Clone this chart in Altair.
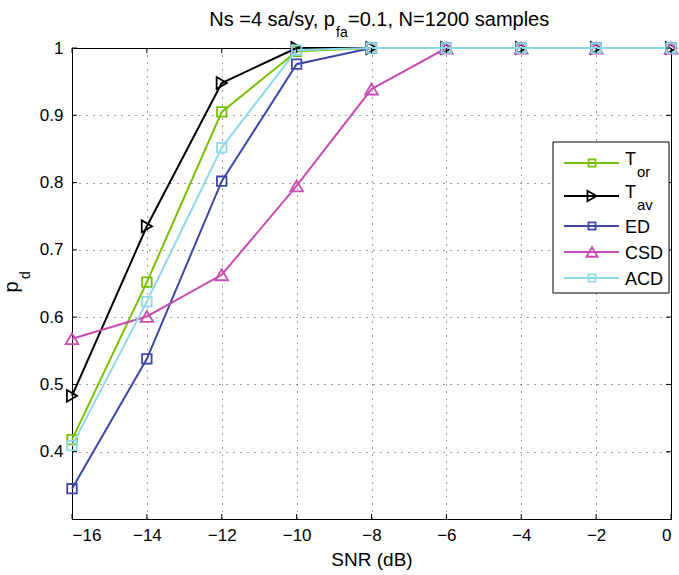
import altair as alt
import pandas as pd

# ---------------- data ----------------
snr = [-16, -14, -12, -10, -8, -6, -4, -2, 0]
series_names = ["T_or", "T_av", "ED", "CSD", "ACD"]
t_or = [0.418, 0.652, 0.905, 0.995, 1.0, 1.0, 1.0, 1.0, 1.0]
t_av = [0.483, 0.735, 0.948, 1.0, 1.0, 1.0, 1.0, 1.0, 1.0]
ed = [0.345, 0.538, 0.802, 0.976, 1.0, 1.0, 1.0, 1.0, 1.0]
csd = [0.568, 0.601, 0.663, 0.795, 0.939, 1.0, 1.0, 1.0, 1.0]
acd = [0.409, 0.623, 0.852, 0.997, 1.0, 1.0, 1.0, 1.0, 1.0]
series_values = [t_or, t_av, ed, csd, acd]

x_ticks = [-16, -14, -12, -10, -8, -6, -4, -2, 0]
y_ticks = [0.4, 0.5, 0.6, 0.7, 0.8, 0.9, 1.0]

# legend labels: (main text, subscript)
legend_main = ["T", "T", "ED", "CSD", "ACD"]
legend_sub = ["or", "av", "", "", ""]

# ---------------- styles ----------------
FONT = "Liberation Sans"
colors = ["#76C000", "#000000", "#3D47A6", "#C74DB3", "#8ED8E8"]
shapes = ["square", "triangle-right", "square", "triangle-up", "square"]
sizes = [90, 140, 90, 160, 90]
leg_sizes = [50, 110, 50, 120, 50]

W, H = 599, 471
xs = alt.Scale(domain=[-16, 0], nice=False, zero=False)
ys = alt.Scale(domain=[0.3, 1.0], nice=False, zero=False)

xaxis = alt.Axis(values=x_ticks, format="d", grid=True, gridDash=[1, 6],
                 gridColor="#000", gridOpacity=0.75, gridWidth=1,
                 tickSize=0, labelPadding=8, labelFontSize=17, labelFont=FONT,
                 labelColor="#000", domainColor="#000", domainWidth=1,
                 title="SNR (dB)", titleFont=FONT, titleFontSize=19,
                 titleFontWeight="normal", titleColor="#000", titlePadding=7)
yaxis = alt.Axis(values=y_ticks, format="~g", grid=True, gridDash=[1, 6],
                 gridColor="#000", gridOpacity=0.75, gridWidth=1,
                 tickSize=0, labelPadding=9, labelFontSize=17, labelFont=FONT,
                 labelColor="#000", domainColor="#000", domainWidth=1,
                 title=None)

layers = []

# series lines + markers
for name, vals, c, shp, sz in zip(series_names, series_values, colors, shapes, sizes):
    df = pd.DataFrame({"snr": snr, "pd": vals})
    base = alt.Chart(df).encode(
        x=alt.X("snr:Q", scale=xs, axis=xaxis),
        y=alt.Y("pd:Q", scale=ys, axis=yaxis),
    )
    layers.append(base.mark_line(color=c, strokeWidth=2))
    layers.append(base.mark_point(shape=shp, size=sz, filled=False, color=c,
                                  strokeWidth=1.8, opacity=1))

# inward ticks on all four sides
xt = pd.DataFrame({"snr": x_ticks})
yt = pd.DataFrame({"pd": y_ticks})
for y0, y1 in [(H, H - 5), (0, 5)]:
    layers.append(alt.Chart(xt).mark_rule(color="#000", strokeWidth=1).encode(
        x=alt.X("snr:Q", scale=xs, axis=xaxis), y=alt.value(y0), y2=alt.value(y1)))
for x0, x1 in [(0, 5), (W, W - 5)]:
    layers.append(alt.Chart(yt).mark_rule(color="#000", strokeWidth=1).encode(
        y=alt.Y("pd:Q", scale=ys, axis=yaxis), x=alt.value(x0), x2=alt.value(x1)))

one = pd.DataFrame({"a": [0]})

def text_layer(txt, x, y, size, align="left", angle=0):
    return alt.Chart(one).mark_text(text=txt, align=align, baseline="alphabetic",
                                    font=FONT, fontSize=size, color="#000",
                                    angle=angle).encode(x=alt.value(x), y=alt.value(y))

# title with subscript
layers.append(text_layer("Ns =4 sa/sy, p", 263, -22, 20, align="right"))
layers.append(text_layer("fa", 264, -11, 14))
layers.append(text_layer("=0.1, N=1200 samples", 276, -22, 20))

# y-axis title p_d (rotated)
layers.append(text_layer("p", -54, 239, 20, align="center", angle=270))
layers.append(text_layer("d", -42, 227, 14, align="center", angle=270))

# legend box
layers.append(alt.Chart(one).mark_rect(fill="white", stroke="#000", strokeWidth=1).encode(
    x=alt.value(481), x2=alt.value(597), y=alt.value(94), y2=alt.value(245)))
rows = [115, 148, 178, 204, 230]
for i, name in enumerate(series_names):
    r = rows[i]
    layers.append(alt.Chart(one).mark_rule(color=colors[i], strokeWidth=2).encode(
        x=alt.value(492), x2=alt.value(547), y=alt.value(r)))
    layers.append(alt.Chart(one).mark_point(shape=shapes[i], size=leg_sizes[i], filled=False,
                                            color=colors[i], strokeWidth=1.8, opacity=1).encode(
        x=alt.value(520), y=alt.value(r)))
    if legend_sub[i]:
        layers.append(text_layer(legend_main[i], 553, r + 2, 18))
        layers.append(text_layer(legend_sub[i], 565, r + 14, 15))
    else:
        layers.append(text_layer(legend_main[i], 553, r + 6.5, 18))

chart = alt.layer(*layers).properties(
    width=W, height=H,
    padding={"left": 72, "top": 48, "right": 8, "bottom": 56},
    autosize=alt.AutoSizeParams(type="none"),
    background="white",
).configure_view(stroke="#000", strokeWidth=1)

chart.save("out.html", embed_options={"renderer": "svg", "actions": False})
